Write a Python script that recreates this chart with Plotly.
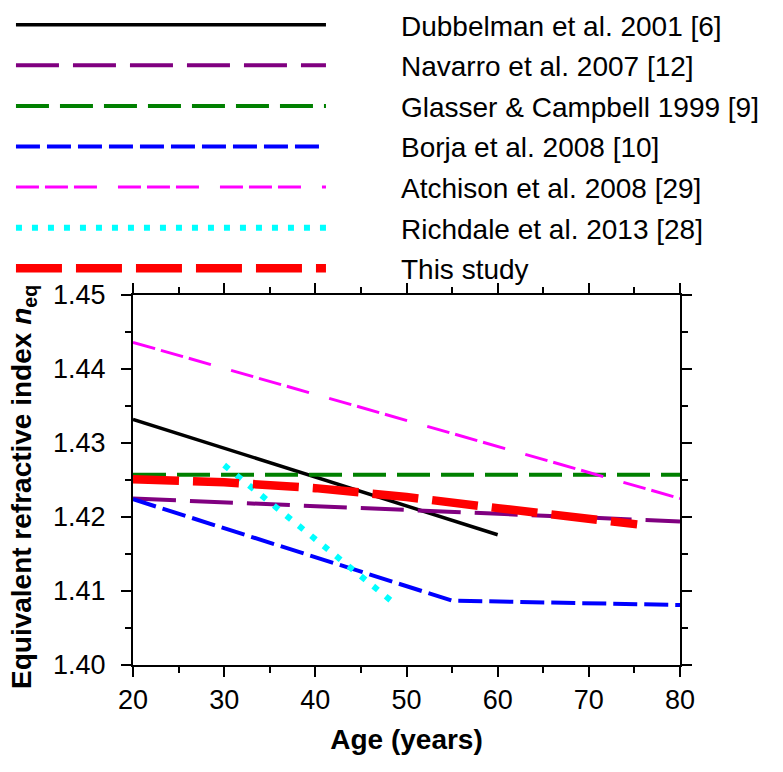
import plotly.graph_objects as go

# ---- data ----
dubbelman_age = [20, 60]
dubbelman_n = [1.4332, 1.4176]

navarro_age = [20, 80]
navarro_n = [1.4225, 1.4194]

glasser_age = [20, 80]
glasser_n = [1.4257, 1.4257]

borja_age = [20, 55, 80]
borja_n = [1.4224, 1.4087, 1.4081]

atchison_age = [20, 80]
atchison_n = [1.4436, 1.4225]

richdale_age = [30, 48.5]
richdale_n = [1.4270, 1.4085]

study_age = [20, 30, 40, 50, 60, 70, 75.3]
study_n = [1.4251, 1.4247, 1.4239, 1.4227, 1.4212, 1.4197, 1.4190]

names = [
    "Dubbelman et al. 2001 [6]",
    "Navarro et al. 2007 [12]",
    "Glasser & Campbell 1999 [9]",
    "Borja et al. 2008 [10]",
    "Atchison et al. 2008 [29]",
    "Richdale et al. 2013 [28]",
    "This study",
]

x_title = "<b>Age (years)</b>"
y_title = "<b>Equivalent refractive index <i>n</i><sub>eq</sub></b>"

x_range = [20, 80]
y_range = [1.40, 1.45]
x_major, x_minor = 10, 5
y_major, y_minor = 0.01, 0.005

series = [
    (dubbelman_age, dubbelman_n, dict(color="#000000", width=3.5, dash="solid")),
    (navarro_age, navarro_n, dict(color="#800080", width=4, dash="43px,14px")),
    (glasser_age, glasser_n, dict(color="#008000", width=4, dash="33px,11px")),
    (borja_age, borja_n, dict(color="#0000FF", width=4, dash="24px,7px")),
    (atchison_age, atchison_n, dict(color="#FF00FF", width=3, dash="23px,6px,23px,6px,23px,21px")),
    (richdale_age, richdale_n, dict(color="#00FFFF", width=6, dash="6px,10px")),
    (study_age, study_n, dict(color="#FF0000", width=8.5, dash="46px,14px")),
]

FONT = "Arial, Liberation Sans, sans-serif"
pad = "\u00a0" * 9

fig = go.Figure()
for i, ((xs, ys, ln), nm) in enumerate(zip(series, names)):
    fig.add_trace(go.Scatter(x=xs, y=ys, mode="lines", name=pad + nm, line=ln,
                             legendgroup="g%d" % i))

axis_common = dict(
    showline=True, linecolor="black", linewidth=2,
    ticks="outside", ticklen=10, tickwidth=2, tickcolor="black",
    mirror="ticks", showgrid=False, zeroline=False, tickmode="linear",
    tickfont=dict(family=FONT, size=27, color="black"),
    automargin=False,
)

fig.update_xaxes(
    range=x_range, tick0=x_range[0], dtick=x_major,
    minor=dict(tick0=x_range[0], dtick=x_minor, ticks="outside", ticklen=6, tickwidth=2, tickcolor="black"),
    title=dict(text=x_title, font=dict(family=FONT, size=28, color="black")),
    **axis_common,
)
fig.update_yaxes(
    range=y_range, tick0=y_range[0], dtick=y_major, tickformat=".2f",
    minor=dict(tick0=y_range[0], dtick=y_minor, ticks="outside", ticklen=6, tickwidth=2, tickcolor="black"),
    ticklabelstandoff=10,
    **axis_common,
)

fig.add_annotation(
    text=y_title, xref="paper", yref="paper",
    x=(23 - 133) / 547, y=(665 - 487) / 370,
    xanchor="center", yanchor="middle", textangle=-90, showarrow=False,
    font=dict(family=FONT, size=28, color="black"),
)

fig.update_layout(
    width=783, height=772,
    margin=dict(l=133, r=103, t=295, b=107, autoexpand=False),
    paper_bgcolor="white", plot_bgcolor="white",
    showlegend=True,
    legend=dict(
        xref="container", yref="container", x=0.014, y=1.023,
        xanchor="left", yanchor="top",
        itemwidth=310, font=dict(family=FONT, size=28, color="black"),
        bgcolor="rgba(0,0,0,0)", borderwidth=0,
        tracegroupgap=1.2,
    ),
)

fig.write_html("out.html", config={"displayModeBar": False},
               post_script="document.body.style.margin='0px';")
